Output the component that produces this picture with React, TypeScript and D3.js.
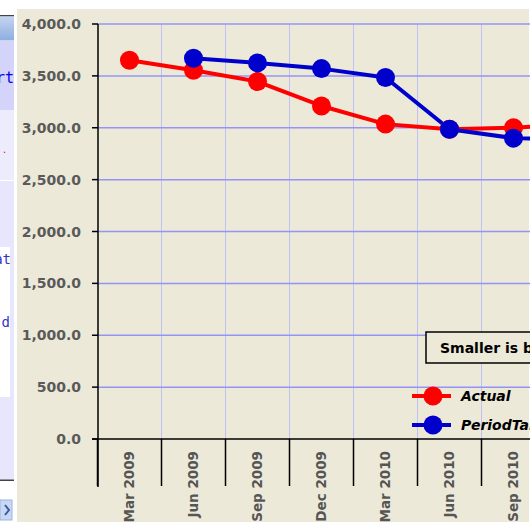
import React from "react";
import * as d3 from "d3";

const categories = ["Mar 2009", "Jun 2009", "Sep 2009", "Dec 2009", "Mar 2010", "Jun 2010", "Sep 2010", "Dec 2010"];
const actual = [3650, 3555, 3445, 3210, 3035, 2985, 3000, 3040];
const periodTarget = [null, 3670, 3625, 3570, 3485, 2985, 2900, 2885];
const yTicks = [0, 500, 1000, 1500, 2000, 2500, 3000, 3500, 4000];
const seriesNames = ["Actual", "PeriodTarget"];
const seriesColors = ["#ff0000", "#0000cc"];
const noteText = "Smaller is better";

const W = 532, H = 522;
const FONT = "'DejaVu Sans', Verdana, sans-serif";

export default function App() {
  const x = d3.scaleBand<string>().domain(categories).range([97.5, 97.5 + 64 * categories.length]);
  const y = d3.scaleLinear().domain([0, 4000]).range([439, 24]);
  const cx = (c: string) => (x(c) as number) + x.bandwidth() / 2;
  const clipR = 530;

  const mk = (vals: (number | null)[]) =>
    d3.line<number | null>()
      .defined((d) => d != null)
      .x((_, i) => cx(categories[i]))
      .y((d) => y(d as number))(vals) || "";

  const series = [actual, periodTarget];
  const boundaries = categories.map((c) => x(c) as number).concat([(x(categories[categories.length - 1]) as number) + 64]);

  return (
    <svg width={W} height={H} style={{ position: "absolute", left: 0, top: 0, display: "block" }} fontFamily={FONT}>
      <defs>
        <clipPath id="plot"><rect x={0} y={0} width={clipR} height={H} /></clipPath>
        <clipPath id="leftp"><rect x={0} y={0} width={14} height={H} /></clipPath>
        <linearGradient id="hdr" x1="0" y1="0" x2="0" y2="1">
          <stop offset="0" stopColor="#c4d4f0" />
          <stop offset="1" stopColor="#8eaee0" />
        </linearGradient>
      </defs>
      <rect x={0} y={0} width={W} height={H} fill="#ffffff" />
      {/* left UI panel fragment */}
      <g clipPath="url(#leftp)">
        <rect x={0} y={15} width={14} height={1.5} fill="#444" />
        <rect x={0} y={16.5} width={14} height={24} fill="url(#hdr)" />
        <rect x={0} y={41} width={14} height={69} fill="#d4d4fa" />
        <rect x={0} y={110} width={14} height={70} fill="#ececfc" />
        <rect x={0} y={181} width={14} height={299} fill="#e6e6fc" />
        <rect x={0} y={247} width={10} height={150} fill="#ffffff" />
        <text x={14} y={83} textAnchor="end" fontSize={15} fill="#0000ee" fontFamily="'DejaVu Sans Mono', monospace">rt</text>
        <text x={3} y={153} fontSize={10} fill="#ee0000">.</text>
        <text x={11} y={264} textAnchor="end" fontSize={14} fill="#3333cc" fontFamily="'DejaVu Sans Mono', monospace">at</text>
        <text x={10} y={327} textAnchor="end" fontSize={14} fill="#3333cc" fontFamily="'DejaVu Sans Mono', monospace">d</text>
        <rect x={0} y={479.5} width={14} height={1.5} fill="#444" />
        <rect x={0} y={500} width={12} height={20} fill="#c8d8f4" stroke="#a0b4dc" />
        <path d="M5,505 L9,510 L5,515" stroke="#3a5a9a" strokeWidth={2} fill="none" />
      </g>
      {/* chart background */}
      <rect x={17} y={9} width={clipR - 17 - 1} height={H - 9} fill="#ece9d8" />
      <g clipPath="url(#plot)">
        {boundaries.slice(1).map((b, i) => (
          <line key={"vg" + i} x1={b} x2={b} y1={24} y2={439} stroke="#c0c0f6" strokeWidth={1} />
        ))}
        {yTicks.filter((t) => t > 0).map((t) => (
          <line key={"hg" + t} x1={98} x2={clipR} y1={y(t)} y2={y(t)} stroke="#9494f6" strokeWidth={1.5} />
        ))}
        <line x1={92} x2={clipR} y1={439} y2={439} stroke="#000" strokeWidth={1.5} />
        {boundaries.map((b, i) => (
          <line key={"xt" + i} x1={b} x2={b} y1={439} y2={486} stroke="#000" strokeWidth={1.5} />
        ))}
        <line x1={98} x2={98} y1={24} y2={487} stroke="#000" strokeWidth={1.5} />
        {yTicks.map((t) => (
          <line key={"yt" + t} x1={92} x2={98} y1={y(t)} y2={y(t)} stroke="#000" strokeWidth={1.5} />
        ))}
        {series.map((s, si) => (
          <path key={"l" + si} d={mk(s)} fill="none" stroke={seriesColors[si]} strokeWidth={4} strokeLinejoin="round" />
        ))}
        {series.map((s, si) =>
          s.map((v, i) =>
            v == null ? null : (
              <circle key={"m" + si + "-" + i} cx={cx(categories[i])} cy={y(v)} r={9.5} fill={seriesColors[si]} />
            )
          )
        )}
        {categories.map((c) => (
          <text key={"xl" + c} transform={`translate(${cx(c) + 4.5},451) rotate(-90)`} textAnchor="end"
            fontSize={13.5} fontWeight="bold" fill="#555">{c}</text>
        ))}
        <rect x={426} y={332} width={200} height={31} fill="#ece9d8" stroke="#000" strokeWidth={1.5} />
        <text x={440} y={353} fontSize={14} fontWeight="bold" fill="#000">{noteText}</text>
        {seriesNames.map((n, i) => {
          const ly = 396 + i * 29;
          return (
            <g key={"lg" + n}>
              <line x1={412} x2={451} y1={ly} y2={ly} stroke={seriesColors[i]} strokeWidth={4} />
              <circle cx={433} cy={ly} r={9.5} fill={seriesColors[i]} />
              <text x={461} y={ly + 5} fontSize={14} fontWeight="bold" fontStyle="italic" fill="#000">{n}</text>
            </g>
          );
        })}
      </g>
      {yTicks.map((t) => (
        <text key={"yl" + t} x={81} y={y(t)} dy="0.36em" textAnchor="end" fontSize={14} fontWeight="bold" fill="#5a5a5a">
          {d3.format(",.1f")(t)}
        </text>
      ))}
    </svg>
  );
}
